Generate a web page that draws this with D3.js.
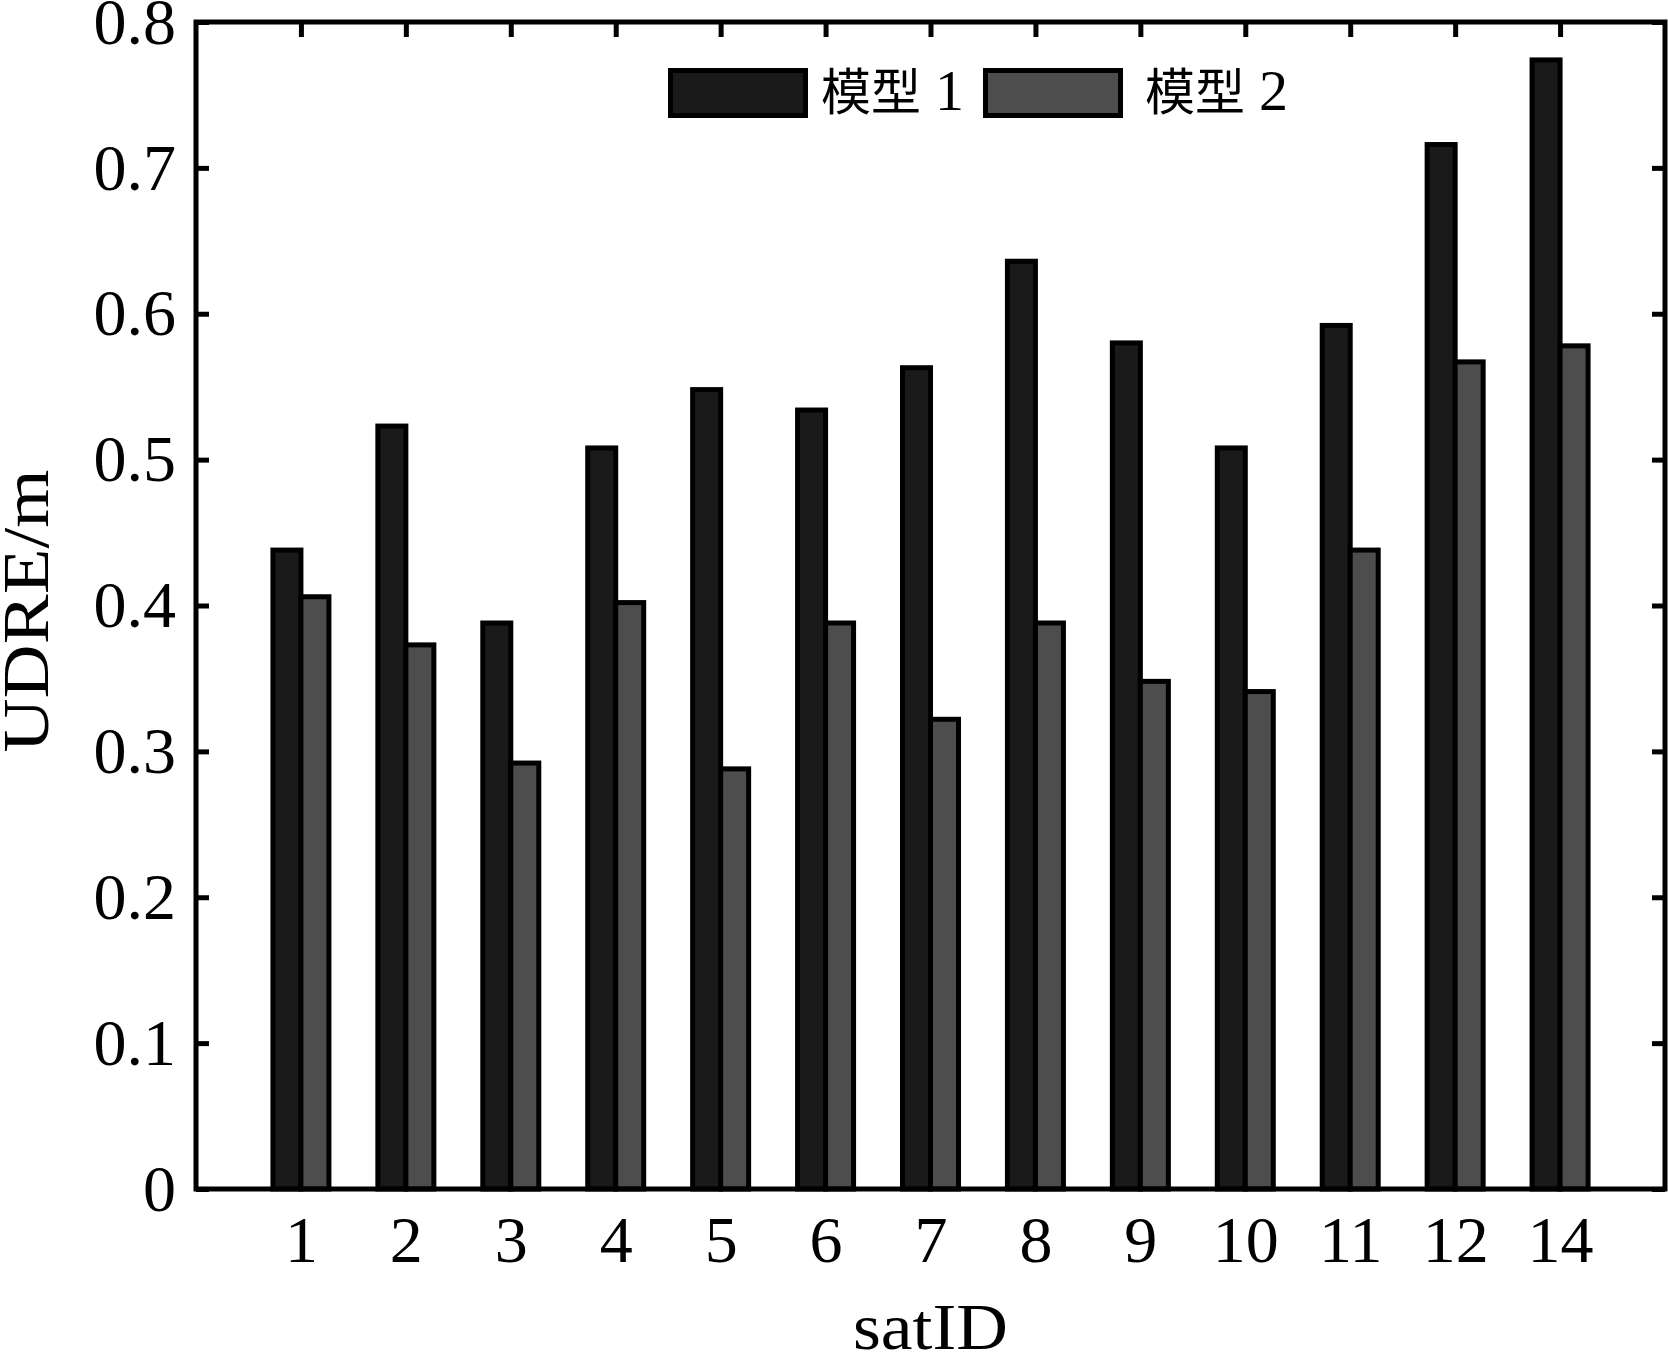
<!DOCTYPE html>
<html>
<head>
<meta charset="utf-8">
<script src="https://cdn.jsdelivr.net/npm/d3@7"></script>
<style>
  html, body { margin: 0; padding: 0; background: #fff; }
  svg { display: block; }
  text { font-family: "Liberation Serif", "Times New Roman", "Noto Sans CJK SC", serif; fill: #000; }
</style>
</head>
<body>
<svg id="chart" width="1668" height="1356"></svg>
<script>
// ---- data ----
const categories = ["1", "2", "3", "4", "5", "6", "7", "8", "9", "10", "11", "12", "14"];
const model1 = [0.438, 0.523, 0.388, 0.508, 0.548, 0.534, 0.563, 0.636, 0.580, 0.508, 0.592, 0.716, 0.774];
const model2 = [0.406, 0.373, 0.292, 0.402, 0.288, 0.388, 0.322, 0.388, 0.348, 0.341, 0.438, 0.567, 0.578];
const seriesNamesCJK = ["模型", "模型"];
const seriesNamesNum = ["1", "2"];
const seriesColors = ["#1a1a1a", "#4d4d4d"];
const yTicks = [0, 0.1, 0.2, 0.3, 0.4, 0.5, 0.6, 0.7, 0.8];
const xLabel = "satID";
const yLabel = "UDRE/m";

// ---- layout ----
const mL = 196, mR = 1665, mT = 22, mB = 1189;
const svg = d3.select("#chart");

const x = d3.scalePoint().domain(categories).range([mL, mR]).padding(1);
const y = d3.scaleLinear().domain([0, 0.8]).range([mB, mT]);
const barW = 28;

// axes (ticks inward)
const axLeft = svg.append("g").attr("transform", `translate(${mL},0)`)
  .call(d3.axisLeft(y).tickValues(yTicks).tickSize(-13).tickPadding(20)
    .tickFormat(d => d === 0 ? "0" : d3.format(".1f")(d)));
const axRight = svg.append("g").attr("transform", `translate(${mR},0)`)
  .call(d3.axisRight(y).tickValues(yTicks).tickSize(-13).tickFormat(""));
const axTop = svg.append("g").attr("transform", `translate(0,${mT})`)
  .call(d3.axisTop(x).tickSize(-15).tickFormat(""));
const axBottom = svg.append("g").attr("transform", `translate(0,${mB})`)
  .call(d3.axisBottom(x).tickSize(-13).tickPadding(26));

[axLeft, axRight, axTop, axBottom].forEach(g => {
  g.select(".domain").remove();
  g.selectAll(".tick line").attr("stroke", "#000").attr("stroke-width", 5);
  g.selectAll(".tick text").attr("font-size", 66)
    .attr("font-family", '"Liberation Serif", "Times New Roman", serif');
});

// bars
const series = [model1, model2];
series.forEach((vals, si) => {
  svg.append("g").selectAll("rect").data(vals).join("rect")
    .attr("x", (d, i) => x(categories[i]) + (si === 0 ? -barW : 0))
    .attr("y", d => y(d))
    .attr("width", barW)
    .attr("height", d => y(0) - y(d))
    .attr("fill", seriesColors[si])
    .attr("stroke", "#000")
    .attr("stroke-width", 5);
});

// frame
svg.append("rect")
  .attr("x", mL).attr("y", mT)
  .attr("width", mR - mL).attr("height", mB - mT)
  .attr("fill", "none").attr("stroke", "#000").attr("stroke-width", 5);

// legend
const legendItems = [
  { box: 668, text: 821 },
  { box: 983, text: 1145 }
];
legendItems.forEach((p, i) => {
  svg.append("rect")
    .attr("x", p.box + 2.5).attr("y", 70.5)
    .attr("width", 135).attr("height", 45)
    .attr("fill", seriesColors[i]).attr("stroke", "#000").attr("stroke-width", 5);
  const t = svg.append("text").attr("x", p.text).attr("y", 110);
  t.append("tspan")
    .attr("font-family", '"Noto Sans CJK SC", sans-serif')
    .attr("font-size", 50)
    .text(seriesNamesCJK[i]);
  t.append("tspan")
    .attr("x", p.text + 114)
    .attr("font-family", '"Liberation Serif", "Times New Roman", serif')
    .attr("font-size", 58)
    .text(seriesNamesNum[i]);
});

// axis labels
svg.append("text")
  .attr("x", (mL + mR) / 2).attr("y", 1349)
  .attr("text-anchor", "middle").attr("font-size", 66)
  .attr("textLength", 155).attr("lengthAdjust", "spacingAndGlyphs")
  .text(xLabel);

svg.append("text")
  .attr("transform", `translate(48,${611}) rotate(-90)`)
  .attr("text-anchor", "middle").attr("font-size", 66)
  .attr("textLength", 283).attr("lengthAdjust", "spacingAndGlyphs")
  .text(yLabel);
</script>
</body>
</html>
